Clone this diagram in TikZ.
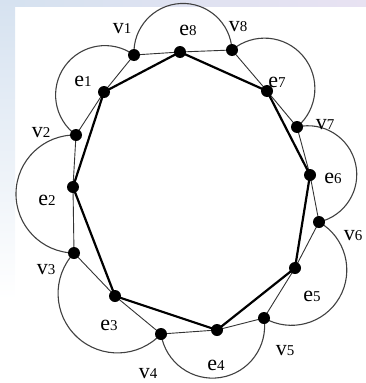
\documentclass[tikz,border=0pt]{standalone}
\usepackage{fontspec}
\setmainfont{Liberation Serif}
\usetikzlibrary{calc}
\definecolor{bgblue}{RGB}{214,226,240}
\definecolor{bglav}{RGB}{232,226,242}
\newcommand{\lbl}[2]{#1{\fontsize{15}{15}\selectfont #2}}

\begin{document}
\begin{tikzpicture}[x=1pt,y=-1pt,
  dot/.style={circle,fill=black,inner sep=0pt,minimum size=12pt},
  lab/.style={inner sep=0pt,font=\fontsize{22}{24}\selectfont},
  edge/.style={draw=black!80,line width=0.9pt},
  loop/.style={draw=black!75,line width=1.1pt},
  cycle/.style={draw=black,line width=2.2pt,line join=round}]
\useasboundingbox (0,0) rectangle (366,383);
\shade[top color=bgblue, bottom color=white] (0,0) rectangle (15,300);
\shade[left color=bgblue, right color=bglav] (15,0) rectangle (366,6);

% vertices and edge points
\coordinate (v1) at (134,55);
\coordinate (v2) at (76,135);
\coordinate (v3) at (74,253);
\coordinate (v4) at (161,334);
\coordinate (v5) at (264,318);
\coordinate (v6) at (319,222);
\coordinate (v7) at (297,127);
\coordinate (v8) at (232,50);
\coordinate (e1) at (104,92);
\coordinate (e2) at (73,187);
\coordinate (e3) at (115,296);
\coordinate (e4) at (217,330);
\coordinate (e5) at (295,268);
\coordinate (e6) at (310,175);
\coordinate (e7) at (267,91);
\coordinate (e8) at (180,52);

% loops
\foreach \a/\b in {v1/v2,v2/v3,v3/v4,v4/v5,v5/v6,v6/v7,v7/v8,v8/v1}
  \draw[loop] let \p1=($(\b)-(\a)$), \n1={atan2(\y1,\x1)}, \n2={veclen(\x1,\y1)/2}
    in (\a) arc[start angle=\n1+180, delta angle=180, radius=\n2];

% outer polygon
\foreach \a/\m/\b in {v1/e1/v2,v2/e2/v3,v3/e3/v4,v4/e4/v5,v5/e5/v6,v6/e6/v7,v7/e7/v8,v8/e8/v1}
  \draw[edge] (\a) -- (\m) -- (\b);

% inner cycle
\draw[cycle] (e1) -- (e2) -- (e3) -- (e4) -- (e5) -- (e6) -- (e7) -- (e8) -- cycle;

% dots
\foreach \p in {v1,v2,v3,v4,v5,v6,v7,v8,e1,e2,e3,e4,e5,e6,e7,e8}
  \node[dot] (d\p) at (\p) {};

% labels
\node[lab] (lv1) at (122,29) {\lbl{v}{1}};
\node[lab] (lv2) at (41,133) {\lbl{v}{2}};
\node[lab] (lv3) at (46,270) {\lbl{v}{3}};
\node[lab] (lv4) at (148,374) {\lbl{v}{4}};
\node[lab] (lv5) at (285,351) {\lbl{v}{5}};
\node[lab] (lv6) at (353,236) {\lbl{v}{6}};
\node[lab] (lv7) at (325,125) {\lbl{v}{7}};
\node[lab] (lv8) at (238,27) {\lbl{v}{8}};
\node[lab] (le1) at (83,81) {\lbl{e}{1}};
\node[lab] (le2) at (47,200) {\lbl{e}{2}};
\node[lab] (le3) at (109,325) {\lbl{e}{3}};
\node[lab] (le4) at (216,365) {\lbl{e}{4}};
\node[lab] (le5) at (312,296) {\lbl{e}{5}};
\node[lab] (le6) at (333,178) {\lbl{e}{6}};
\node[lab] (le7) at (277,82) {\lbl{e}{7}};
\node[lab] (le8) at (188,30) {\lbl{e}{8}};
\end{tikzpicture}
\end{document}
